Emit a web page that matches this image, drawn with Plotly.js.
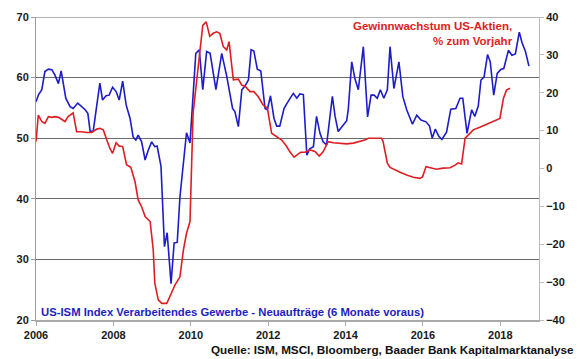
<!DOCTYPE html>
<html>
<head>
<meta charset="utf-8">
<script src="https://cdn.plot.ly/plotly-3.0.1.min.js"></script>
<style>
html,body{margin:0;padding:0;background:#fff;}
#chart{width:580px;height:359px;}
</style>
</head>
<body>
<div id="chart"></div>
<script>
// ISM new orders (left axis), x in decimal years
const ismYears = [2006.00,2006.06,2006.15,2006.23,2006.32,2006.41,2006.49,2006.58,2006.65,2006.71,2006.77,2006.88,2006.96,
2007.08,2007.18,2007.27,2007.34,2007.40,2007.48,2007.57,2007.65,2007.72,2007.81,2007.89,2007.98,
2008.07,2008.15,2008.24,2008.33,2008.43,2008.51,2008.58,2008.64,2008.73,2008.82,2008.90,2008.99,
2009.07,2009.13,2009.23,2009.32,2009.39,2009.49,2009.57,2009.65,2009.72,2009.82,2009.89,2009.98,
2010.06,2010.13,2010.22,2010.31,2010.41,2010.50,2010.65,2010.80,2010.93,
2011.08,2011.14,2011.23,2011.32,2011.40,2011.49,2011.56,2011.63,2011.72,2011.81,2011.92,2011.98,
2012.06,2012.15,2012.22,2012.30,2012.41,2012.49,2012.59,2012.65,2012.74,2012.82,2012.91,
2013.00,2013.08,2013.17,2013.25,2013.34,2013.42,2013.51,2013.66,2013.73,2013.81,2013.90,
2014.03,2014.07,2014.16,2014.24,2014.33,2014.46,2014.57,2014.66,2014.74,2014.82,2014.90,2014.99,
2015.08,2015.15,2015.25,2015.38,2015.48,2015.58,2015.73,2015.84,2015.95,
2016.08,2016.17,2016.24,2016.32,2016.41,2016.49,2016.61,2016.72,2016.85,2016.96,
2017.03,2017.14,2017.26,2017.34,2017.43,2017.50,2017.58,2017.67,2017.74,2017.83,2017.92,
2018.02,2018.09,2018.21,2018.30,2018.39,2018.49,2018.56,2018.65,2018.74];
const ismValues = [56.0,57.1,58.0,61.0,61.4,61.3,60.4,59.0,61.1,58.5,56.6,55.2,54.9,
55.8,55.2,54.7,54.1,51.1,51.2,55.2,59.1,56.3,57.0,57.1,58.4,
57.7,56.3,59.4,55.5,53.3,50.2,49.7,50.5,49.4,46.4,48.0,49.4,
48.6,48.7,45.4,32.1,34.4,26.0,32.7,32.8,40.3,45.9,50.9,49.2,
57.1,64.0,64.6,58.0,64.3,64.0,58.0,64.0,60.2,
54.9,54.4,51.9,58.0,58.6,59.6,64.6,64.4,61.4,61.1,54.9,54.7,
57.0,53.3,52.0,52.0,54.9,55.8,56.9,57.4,56.6,57.3,57.2,
47.2,48.3,48.6,53.6,50.8,49.4,48.9,56.9,53.6,51.1,51.9,
52.9,54.7,62.6,59.9,58.0,65.1,53.5,57.1,57.1,56.6,58.0,56.6,
58.0,65.1,58.2,62.6,56.9,54.7,52.3,53.8,53.0,
52.7,52.0,50.0,51.5,50.3,49.8,51.0,54.8,54.9,56.6,
56.6,50.8,54.7,53.6,55.3,59.6,60.1,63.8,62.6,57.1,60.7,
61.4,61.5,64.5,63.7,63.9,67.5,65.8,64.3,61.9];

// Earnings growth US equities, % y/y (right axis)
const epsYears = [2006.00,2006.06,2006.15,2006.23,2006.32,2006.41,2006.49,2006.58,2006.75,2006.83,2006.96,
2007.05,2007.18,2007.31,2007.44,2007.57,2007.65,2007.74,2007.83,2007.91,2007.98,
2008.07,2008.15,2008.24,2008.34,2008.45,2008.56,2008.64,2008.73,2008.82,2008.95,
2009.03,2009.07,2009.16,2009.25,2009.38,2009.46,2009.59,2009.72,2009.81,2009.89,2009.98,
2010.06,2010.15,2010.24,2010.31,2010.40,2010.49,2010.58,2010.67,2010.75,2010.84,2010.93,2010.99,
2011.10,2011.23,2011.32,2011.40,2011.53,2011.63,2011.74,2011.87,2011.98,
2012.09,2012.22,2012.35,2012.48,2012.56,2012.67,2012.75,2012.84,2012.95,
2013.08,2013.21,2013.32,2013.42,2013.55,2013.68,2013.86,
2014.03,2014.20,2014.33,2014.50,2014.59,2014.93,2014.97,
2015.08,2015.15,2015.28,2015.41,2015.58,2015.75,2015.92,2015.99,
2016.08,2016.18,2016.35,2016.52,2016.70,2016.83,2016.91,
2017.00,2017.09,2017.17,2017.30,2017.47,2017.60,2017.69,2017.86,2017.99,
2018.08,2018.16,2018.25];
const epsValues = [7.1,14.1,12.4,11.9,13.7,13.5,13.7,13.5,12.4,13.7,14.7,
9.7,9.7,9.5,9.5,10.4,10.6,10.2,7.5,5.3,4.0,
6.8,5.9,5.8,1.0,0.3,-3.5,-8.3,-10.1,-12.7,-14.0,
-21.5,-30.3,-34.7,-35.6,-35.6,-33.8,-30.8,-28.6,-21.5,-17.1,-14.0,
14.6,23.4,31.0,37.8,38.7,34.9,35.7,36.1,35.7,32.2,31.3,33.5,
23.4,23.6,22.0,21.8,20.3,20.3,19.0,16.8,15.9,
9.3,8.4,7.5,5.8,4.4,3.0,3.6,4.3,4.3,
4.9,4.5,3.3,4.4,7.1,6.8,6.7,
6.5,6.7,7.1,7.5,8.0,8.0,7.1,
1.4,0.3,-0.4,-1.0,-1.7,-2.3,-2.6,-2.2,
0.5,0.3,-0.2,0.1,0.2,0.9,1.5,
1.2,8.0,8.8,10.2,10.9,11.5,11.9,12.6,13.2,
18.5,20.7,21.2];

const xTicks = [2006,2008,2010,2012,2014,2016,2018];
const leftTicks = [20,30,40,50,60,70];
const rightTicks = [-40,-30,-20,-10,0,10,20,30,40];

const blue = 'rgb(28,28,200)';
const red = 'rgb(222,30,34)';
const font = 'Liberation Sans, Arial, sans-serif';

const traces = [
  {x: ismYears, y: ismValues, type: 'scatter', mode: 'lines', yaxis: 'y',
   line: {color: blue, width: 1.6}, hoverinfo: 'skip'},
  {x: epsYears, y: epsValues, type: 'scatter', mode: 'lines', yaxis: 'y2',
   line: {color: red, width: 1.6}, hoverinfo: 'skip'}
];

const layout = {
  width: 580, height: 359,
  margin: {l: 36, r: 41, t: 17, b: 39},
  paper_bgcolor: '#fff', plot_bgcolor: '#fff',
  showlegend: false,
  font: {family: font, size: 11, color: '#1a1a1a'},
  xaxis: {
    range: [2006, 2019], tickvals: xTicks, ticktext: xTicks.map(String),
    showgrid: false, zeroline: false, showline: true, linecolor: '#aaaaaa', linewidth: 2,
    ticks: 'outside', ticklen: 4, tickcolor: '#aaaaaa',
    tickfont: {family: font, size: 11, color: '#1a1a1a', weight: 'bold'}
  },
  yaxis: {
    range: [20, 70], tickvals: leftTicks, showgrid: true, gridcolor: '#6a6a6a', gridwidth: 1,
    zeroline: false, showline: true, linecolor: '#999999', linewidth: 1,
    ticks: 'outside', ticklen: 4, tickcolor: '#999999',
    tickfont: {family: font, size: 11, color: '#1a1a1a', weight: 'bold'}
  },
  yaxis2: {
    range: [-40, 40], tickvals: rightTicks, overlaying: 'y', side: 'right',
    showgrid: false, zeroline: false, showline: true, linecolor: '#bbbbbb', linewidth: 1,
    ticks: 'outside', ticklen: 4, tickcolor: '#bbbbbb',
    tickfont: {family: font, size: 11, color: '#1a1a1a', weight: 'bold'}
  },
  shapes: [
    {type: 'line', xref: 'paper', yref: 'y', x0: 0, x1: 1, y0: 70, y1: 70,
     line: {color: '#6a6a6a', width: 1}}
  ],
  annotations: [
    {text: '<b>Gewinnwachstum US-Aktien,<br>% zum Vorjahr</b>', xref: 'paper', yref: 'paper',
     x: 0.953, y: 0.998, xanchor: 'right', yanchor: 'top', align: 'right', showarrow: false,
     font: {family: font, size: 11.5, color: red}},
    {text: '<b>US-ISM Index Verarbeitendes Gewerbe - Neuaufträge (6 Monate voraus)</b>', xref: 'paper', yref: 'paper',
     x: 0.006, y: 0.0, xanchor: 'left', yanchor: 'bottom', showarrow: false,
     font: {family: font, size: 11.3, color: 'rgb(30,30,190)'}},
    {text: '<b>Quelle: ISM, MSCI, Bloomberg, Baader Bank Kapitalmarktanalyse</b>', xref: 'paper', yref: 'paper',
     x: 1.073, y: -0.068, xanchor: 'right', yanchor: 'top', showarrow: false,
     font: {family: font, size: 11.7, color: '#111'}}
  ]
};

Plotly.newPlot('chart', traces, layout, {staticPlot: true, displayModeBar: false});
</script>
</body>
</html>
